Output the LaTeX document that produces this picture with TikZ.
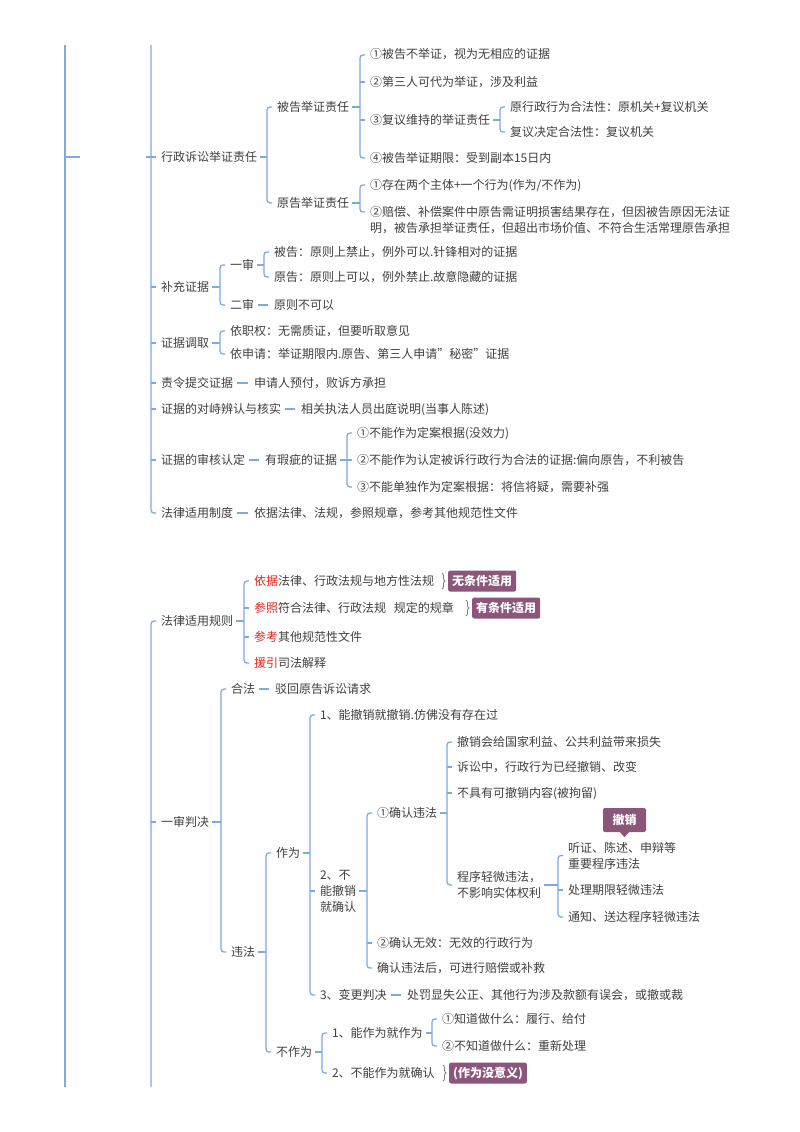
\documentclass[tikz,border=0pt]{standalone}
\usepackage{fontspec}
\setmainfont{Noto Sans CJK SC}
\usetikzlibrary{decorations.pathreplacing,calc}
\definecolor{lnc}{RGB}{125,170,225}
\definecolor{txc}{RGB}{64,64,64}
\definecolor{redc}{RGB}{230,35,35}
\definecolor{purc}{RGB}{139,86,122}
\definecolor{bracec}{RGB}{125,120,135}
% parent tick + bracket from first child to last child
\newcommand\mybrk[3]{%
  \draw[ln] ([xshift=3pt]#1.east) -- ($(#2.west |- #1.east)+(-10pt,0)$);
  \draw[ln,rounded corners=3pt] ([xshift=-5pt]#2.west) -| ([xshift=-10pt]#3.west) -- ([xshift=-5pt]#3.west);}
% middle child tick
\newcommand\mytck[1]{\draw[ln] ([xshift=-10pt]#1.west) -- ([xshift=-5pt]#1.west);}
% single child dash
\newcommand\mydsh[2]{\draw[ln] ([xshift=4pt]#1.east) -- ($(#2.west |- #1.east)+(-6pt,0)$);}
\begin{document}
\begin{tikzpicture}[x=1pt,y=-1pt,
  ln/.style={draw=lnc,line width=1.3pt},
  txt/.style={anchor=west,inner sep=0pt,outer sep=0pt,text=txc,font=\fontsize{12}{16}\selectfont,text height=10pt,text depth=2pt},
  mtxt/.style={anchor=west,inner sep=0pt,outer sep=0pt,text=txc,font=\fontsize{12}{16}\selectfont,align=left},
  pt/.style={inner sep=0pt,outer sep=0pt,minimum size=0pt},
  tag/.style={anchor=west,fill=purc,text=white,font=\fontsize{12}{14}\selectfont\bfseries,rounded corners=2pt,inner xsep=4pt,inner ysep=4.5pt,text height=10pt,text depth=2pt},
  brc/.style={draw=bracec,line width=0.8pt,decorate,decoration={brace,amplitude=3pt}}]
\fill[white] (0,0) rectangle (800,1132);
\useasboundingbox (0,0) rectangle (800,1132);

% ---------- section 1 ----------
\node[txt] (A) at (161,157) {行政诉讼举证责任};
\node[txt] (A1) at (277,107) {被告举证责任};
\node[txt] (A11) at (370,55) {①被告不举证，视为无相应的证据};
\node[txt] (A12) at (370,82) {②第三人可代为举证，涉及利益};
\node[txt] (A13) at (370,120) {③复议维持的举证责任};
\node[txt] (A131) at (510,107) {原行政行为合法性：原机关+复议机关};
\node[txt] (A132) at (510,132) {复议决定合法性：复议机关};
\node[txt] (A14) at (370,158) {④被告举证期限：受到副本15日内};
\node[txt] (A2) at (277,203) {原告举证责任};
\node[txt] (A21) at (370,185) {①存在两个主体+一个行为(作为/不作为)};
\node[mtxt] (A22) at (370,220) {②赔偿、补偿案件中原告需证明损害结果存在，但因被告原因无法证\\明，被告承担举证责任，但超出市场价值、不符合生活常理原告承担};
\node[pt] (A22c) at ([yshift=8pt]A22.west) {};

\node[txt] (B) at (161,287) {补充证据};
\node[txt] (B1) at (230,265) {一审};
\node[txt] (B11) at (274,252) {被告：原则上禁止，例外可以.针锋相对的证据};
\node[txt] (B12) at (274,277) {原告：原则上可以，例外禁止.故意隐藏的证据};
\node[txt] (B2) at (230,305) {二审};
\node[txt] (B21) at (274,305) {原则不可以};

\node[txt] (C) at (161,343) {证据调取};
\node[txt] (C1) at (230,331) {依职权：无需质证，但要听取意见};
\node[txt] (C2) at (230,354) {依申请：举证期限内.原告、第三人申请"秘密"证据};

\node[txt] (D) at (161,383) {责令提交证据};
\node[txt] (D1) at (254,383) {申请人预付，败诉方承担};
\node[txt] (E) at (161,409) {证据的对峙辨认与核实};
\node[txt] (E1) at (301,409) {相关执法人员出庭说明(当事人陈述)};
\node[txt] (F) at (161,460) {证据的审核认定};
\node[txt] (F1) at (265,460) {有瑕疵的证据};
\node[txt] (F11) at (357,433) {①不能作为定案根据(没效力)};
\node[txt] (F12) at (357,460) {②不能作为认定被诉行政行为合法的证据:偏向原告，不利被告};
\node[txt] (F13) at (357,487) {③不能单独作为定案根据：将信将疑，需要补强};
\node[txt] (G) at (161,513) {法律适用制度};
\node[txt] (G1) at (254,513) {依据法律、法规，参照规章，参考其他规范性文件};

% outer lines (cropped)
\draw[ln] (65,45) -- (65,1087);
\draw[ln] (65,157) -- (80,157);
\draw[ln,rounded corners=3pt] (151,45) |- ([xshift=-5pt]G.west);
\draw[ln] ([xshift=-15pt]A.west) -- ([xshift=-5pt]A.west);
\mytck{B}\mytck{C}\mytck{D}\mytck{E}\mytck{F}

\mybrk{A}{A1}{A2}
\mybrk{A1}{A11}{A14}\mytck{A12}\mytck{A13}
\mybrk{A13}{A131}{A132}
\mybrk{A2}{A21}{A22c}
\mybrk{B}{B1}{B2}
\mybrk{B1}{B11}{B12}
\mydsh{B2}{B21}
\mybrk{C}{C1}{C2}
\mydsh{D}{D1}
\mydsh{E}{E1}
\mydsh{F}{F1}
\mybrk{F1}{F11}{F13}\mytck{F12}
\mydsh{G}{G1}

% ---------- section 2 ----------
\node[txt] (H) at (161,621) {法律适用规则};
\node[txt] (H1) at (254,581) {\textcolor{redc}{依据}法律、行政法规与地方性法规};
\node[txt] (H2) at (254,608) {\textcolor{redc}{参照}符合法律、行政法规\hspace{8pt}规定的规章};
\node[txt] (H3) at (254,637) {\textcolor{redc}{参考}其他规范性文件};
\node[txt] (H4) at (254,663) {\textcolor{redc}{援引}司法解释};
\node[tag] (X1) at (448,581) {无条件适用};
\node[tag] (X2) at (472,608) {有条件适用};
\draw[brc] ($(X1.west |- H1.north)+(-6pt,2pt)$) -- ($(X1.west |- H1.south)+(-6pt,-2pt)$);
\draw[brc] ($(X2.west |- H2.north)+(-6pt,2pt)$) -- ($(X2.west |- H2.south)+(-6pt,-2pt)$);

\node[txt] (I) at (161,822) {一审判决};
\node[txt] (I1) at (231,689) {合法};
\node[txt] (I11) at (275,689) {驳回原告诉讼请求};
\node[txt] (I2) at (231,952) {违法};
\node[txt] (I21) at (276,853) {作为};
\node[txt] (I211) at (320,715) {1、能撤销就撤销.仿佛没有存在过};
\node[mtxt] (I212) at (320,891) {2、不\\能撤销\\就确认};
\node[txt] (I2121) at (377,813) {①确认违法};
\node[txt] (K1) at (457,742) {撤销会给国家利益、公共利益带来损失};
\node[txt] (K2) at (457,767) {诉讼中，行政行为已经撤销、改变};
\node[txt] (K3) at (457,793) {不具有可撤销内容(被拘留)};
\node[mtxt] (K4) at (457,885) {程序轻微违法，\\不影响实体权利};
\node[mtxt] (J1) at (568,855.5) {听证、陈述、申辩等\\重要程序违法};
\node[txt] (J2) at (568,890) {处理期限轻微违法};
\node[txt] (J3) at (568,917) {通知、送达程序轻微违法};
\node[fill=purc,text=white,font=\fontsize{12}{14}\selectfont\bfseries,rounded corners=2pt,minimum width=43pt,minimum height=24pt,inner sep=0pt] (CX) at (624.5,820) {撤销};
\fill[purc] ([xshift=-4.5pt]CX.south) -- ([yshift=-5pt]CX.south) -- ([xshift=4.5pt]CX.south) -- cycle;
\node[txt] (I2122) at (377,943) {②确认无效：无效的行政行为};
\node[txt] (I2123) at (377,968) {确认违法后，可进行赔偿或补救};
\node[txt] (I213) at (320,995) {3、变更判决};
\node[txt] (I2131) at (407,995) {处罚显失公正、其他行为涉及款额有误会，或撤或裁};
\node[txt] (I22) at (276,1052) {不作为};
\node[txt] (L1) at (332,1033) {1、能作为就作为};
\node[txt] (L11) at (442,1019) {①知道做什么：履行、给付};
\node[txt] (L12) at (442,1046) {②不知道做什么：重新处理};
\node[txt] (L2) at (332,1073) {2、不能作为就确认};
\node[tag] (X3) at (449,1073) {(作为没意义)};
\draw[brc] ($(X3.west |- L2.north)+(-6pt,2pt)$) -- ($(X3.west |- L2.south)+(-6pt,-2pt)$);

\draw[ln,rounded corners=3pt] (151,1087) |- ([xshift=-5pt]H.west);
\mytck{I}
\mybrk{H}{H1}{H4}\mytck{H2}\mytck{H3}
\mybrk{I}{I1}{I2}
\mydsh{I1}{I11}
\mybrk{I2}{I21}{I22}
\mybrk{I21}{I211}{I213}\mytck{I212}
\mybrk{I212}{I2121}{I2123}\mytck{I2122}
\mybrk{I2121}{K1}{K4}\mytck{K2}\mytck{K3}
\mybrk{K4}{J1}{J3}\mytck{J2}
\mydsh{I213}{I2131}
\mybrk{I22}{L1}{L2}
\mybrk{L1}{L11}{L12}
\end{tikzpicture}
\end{document}
